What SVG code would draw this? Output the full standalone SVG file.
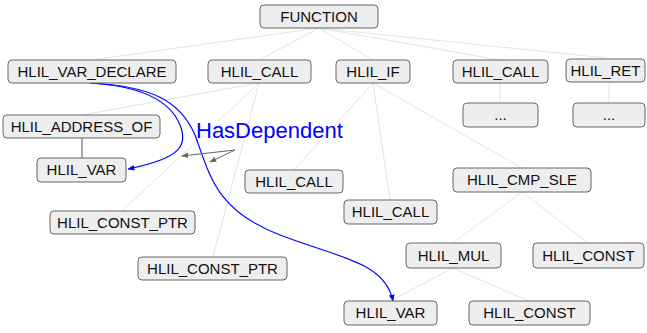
<svg xmlns="http://www.w3.org/2000/svg" width="647" height="333" viewBox="0 0 647 333">
<defs>
<style>
.n rect{fill:#eeeeee;stroke:#666666;stroke-width:1}
.n text{font-family:"Liberation Sans",Arial,sans-serif;font-size:15px;fill:#111;text-anchor:middle}
.e{stroke:#e3e3e3;stroke-width:1;fill:none}
.d{stroke:#555;stroke-width:1;fill:none}
.b{stroke:#0000ff;stroke-width:1.2;fill:none}
.g{stroke:#666;stroke-width:1;fill:none}
</style>
<marker id="ab" viewBox="0 0 10 10" refX="9" refY="5" markerWidth="7" markerHeight="7" orient="auto" markerUnits="userSpaceOnUse"><path d="M0,1 L10,5 L0,9 z" fill="#0000ff"/></marker>
<marker id="ag" viewBox="0 0 10 10" refX="9" refY="5" markerWidth="7" markerHeight="7" orient="auto" markerUnits="userSpaceOnUse"><path d="M0,1 L10,5 L0,9 z" fill="#666"/></marker>
</defs>
<rect width="647" height="333" fill="#fff"/>
<g id="connectors">
<line class="e" x1="319" y1="28" x2="92" y2="60"/>
<line class="e" x1="319" y1="28" x2="259" y2="60"/>
<line class="e" x1="319" y1="28" x2="373" y2="60"/>
<line class="e" x1="319" y1="28" x2="500" y2="60"/>
<line class="e" x1="319" y1="28" x2="606" y2="58"/>
<line class="e" x1="259" y1="83" x2="82" y2="115"/>
<line class="e" x1="259" y1="83" x2="122" y2="211"/>
<line class="e" x1="259" y1="83" x2="213" y2="257"/>
<line class="e" x1="373" y1="83" x2="294" y2="170"/>
<line class="e" x1="373" y1="83" x2="390" y2="200"/>
<line class="e" x1="373" y1="83" x2="522" y2="168"/>
<line class="e" x1="500" y1="83" x2="500" y2="103"/>
<line class="e" x1="609" y1="82" x2="609" y2="103"/>
<line class="e" x1="522" y1="192" x2="453" y2="243"/>
<line class="e" x1="522" y1="192" x2="588" y2="243"/>
<line class="e" x1="453" y1="268" x2="390" y2="301"/>
<line class="e" x1="453" y1="268" x2="529" y2="301"/>
<line class="d" x1="82" y1="138" x2="82" y2="158"/>
<path class="b" d="M90,83 C140,86 170,100 180,125 C188,145 182,158 128,169" marker-end="url(#ab)"/>
<path class="b" d="M90,83 C150,86 180,100 195,135 C210,175 215,210 280,235 C340,258 385,262 393,301" marker-end="url(#ab)"/>
<line class="g" x1="235" y1="150" x2="182" y2="156" marker-end="url(#ag)"/>
<line class="g" x1="235" y1="150" x2="210" y2="162" marker-end="url(#ag)"/>
</g>
<text x="196" y="138" font-family="Liberation Sans,Arial,sans-serif" font-size="22" fill="#0000ff">HasDependent</text>
<g id="n_function" class="n"><rect x="260" y="5" width="118" height="23" rx="4"/><text x="319" y="22">FUNCTION</text></g>
<g id="n_var_declare" class="n"><rect x="8" y="60" width="168" height="23" rx="4"/><text x="92" y="77">HLIL_VAR_DECLARE</text></g>
<g id="n_call1" class="n"><rect x="208" y="60" width="103" height="23" rx="4"/><text x="259.5" y="77">HLIL_CALL</text></g>
<g id="n_if" class="n"><rect x="336" y="60" width="74" height="23" rx="4"/><text x="373" y="77">HLIL_IF</text></g>
<g id="n_call2" class="n"><rect x="453" y="60" width="95" height="23" rx="4"/><text x="500.5" y="77">HLIL_CALL</text></g>
<g id="n_ret" class="n"><rect x="566" y="59" width="79" height="23" rx="4"/><text x="605.5" y="76">HLIL_RET</text></g>
<g id="n_dots1" class="n"><rect x="463" y="103" width="75" height="24" rx="4"/><text x="500.5" y="120">...</text></g>
<g id="n_dots2" class="n"><rect x="573" y="103" width="72" height="24" rx="4"/><text x="609" y="120">...</text></g>
<g id="n_address_of" class="n"><rect x="3" y="115" width="157" height="23" rx="4"/><text x="81.5" y="132">HLIL_ADDRESS_OF</text></g>
<g id="n_var1" class="n"><rect x="37" y="158" width="89" height="24" rx="4"/><text x="81.5" y="175">HLIL_VAR</text></g>
<g id="n_call3" class="n"><rect x="245" y="170" width="98" height="23" rx="4"/><text x="294" y="187">HLIL_CALL</text></g>
<g id="n_call4" class="n"><rect x="344" y="200" width="93" height="24" rx="4"/><text x="390.5" y="217">HLIL_CALL</text></g>
<g id="n_cmp_sle" class="n"><rect x="453" y="168" width="138" height="24" rx="4"/><text x="522" y="185">HLIL_CMP_SLE</text></g>
<g id="n_const_ptr1" class="n"><rect x="50" y="211" width="145" height="23" rx="4"/><text x="122.5" y="228">HLIL_CONST_PTR</text></g>
<g id="n_const_ptr2" class="n"><rect x="138" y="257" width="149" height="23" rx="4"/><text x="212.5" y="274">HLIL_CONST_PTR</text></g>
<g id="n_mul" class="n"><rect x="406" y="243" width="95" height="25" rx="4"/><text x="453.5" y="261">HLIL_MUL</text></g>
<g id="n_const1" class="n"><rect x="533" y="243" width="111" height="25" rx="4"/><text x="588.5" y="261">HLIL_CONST</text></g>
<g id="n_var2" class="n"><rect x="344" y="301" width="93" height="24" rx="4"/><text x="390.5" y="318">HLIL_VAR</text></g>
<g id="n_const2" class="n"><rect x="469" y="301" width="121" height="24" rx="4"/><text x="529.5" y="318">HLIL_CONST</text></g>
</svg>
